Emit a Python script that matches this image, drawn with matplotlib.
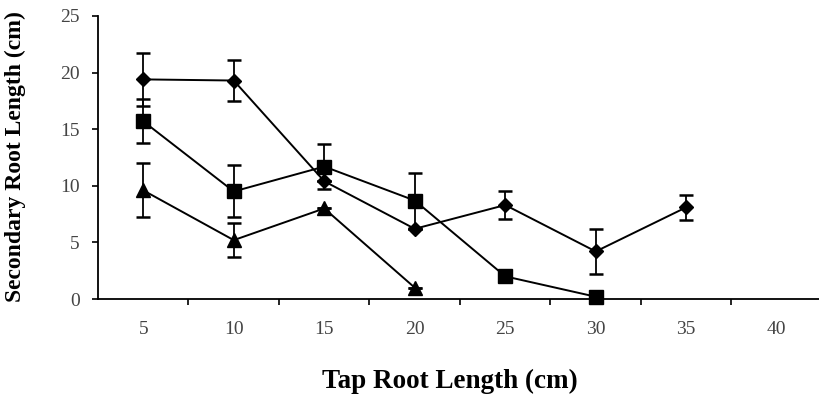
import matplotlib
matplotlib.use("Agg")
import matplotlib.pyplot as plt
from matplotlib.ticker import FixedLocator, NullFormatter

# tap root length categories (cm)
tap_len = [5, 10, 15, 20, 25, 30, 35, 40]

# secondary root length series (cm) with error bars
diamond_x = [5, 10, 15, 20, 25, 30, 35]
diamond_y = [19.4, 19.3, 10.4, 6.2, 8.3, 4.2, 8.1]
diamond_err = [2.35, 1.8, 0.0, 0.0, 1.2, 2.0, 1.1]

square_x = [5, 10, 15, 20, 25, 30]
square_y = [15.7, 9.5, 11.7, 8.7, 2.0, 0.2]
square_err = [1.95, 2.3, 2.0, 2.45, 0.0, 0.0]

triangle_x = [5, 10, 15, 20]
triangle_y = [9.6, 5.2, 8.0, 1.0]
triangle_err = [2.4, 1.5, 0.0, 0.0]

plt.rcParams["font.family"] = ["Liberation Serif", "DejaVu Serif"]

W, H = 820, 398
fig = plt.figure(figsize=(W / 100, H / 100), dpi=100)
ax = fig.add_axes([98 / W, (H - 299) / H, (822 - 98) / W, (299 - 16) / H])

series = [
    (diamond_x, diamond_y, diamond_err, "D", 7.5),
    (square_x, square_y, square_err, "s", 9.5),
    (triangle_x, triangle_y, triangle_err, "^", 10),
]
for xs, ys, errs, mk, ms in series:
    ax.errorbar(xs, ys, yerr=errs, color="black", linewidth=1.4,
                marker=mk, markersize=ms, capsize=5, capthick=1.8,
                elinewidth=1.3, clip_on=False, zorder=3)

ax.set_xlim(2.5, 42.5)
ax.set_ylim(0, 25)
ax.set_yticks([0, 5, 10, 15, 20, 25])
ax.tick_params(axis="y", direction="out", length=4, width=1.2, pad=9,
               labelsize=14, labelcolor="#444444")

edges = [t + 2.5 for t in tap_len]
ax.xaxis.set_major_locator(FixedLocator(edges))
ax.xaxis.set_major_formatter(NullFormatter())
ax.xaxis.set_minor_locator(FixedLocator(tap_len))
ax.set_xticklabels([str(t) for t in tap_len], minor=True)
ax.tick_params(axis="x", which="major", direction="out", length=4, width=1.2)
ax.tick_params(axis="x", which="minor", length=0, pad=16,
               labelsize=14, labelcolor="#444444")

for s in ("top", "right"):
    ax.spines[s].set_visible(False)
for s in ("left", "bottom"):
    ax.spines[s].set_linewidth(1.3)

fig.text(450 / W, 1 - 381 / H, "Tap Root Length (cm)", ha="center", va="center",
         fontsize=19.5, fontweight="bold")
fig.text(15 / W, 1 - 157 / H, "Secondary Root Length (cm)", ha="center", va="center",
         rotation=90, fontsize=17, fontweight="bold")

fig.savefig("out.png", dpi=100)
